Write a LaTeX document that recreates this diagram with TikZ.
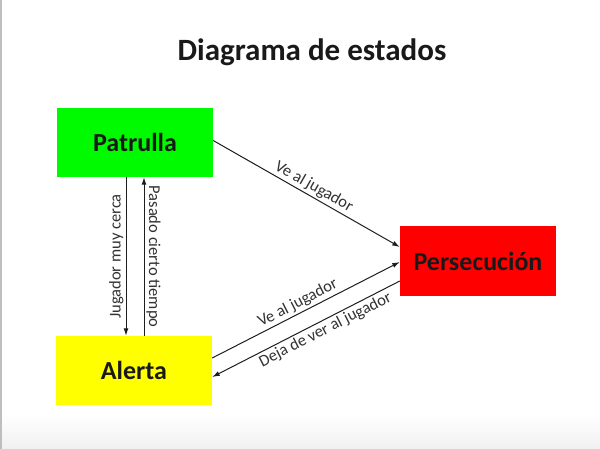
\documentclass[tikz,border=0pt]{standalone}
\usepackage{fontspec}
\setmainfont{Carlito}
\usetikzlibrary{arrows.meta,calc}
\definecolor{boxgreen}{RGB}{0,250,0}
\definecolor{boxyellow}{RGB}{255,255,0}
\definecolor{boxred}{RGB}{255,0,0}
\definecolor{linegray}{RGB}{30,30,30}
\definecolor{labelgray}{RGB}{50,50,50}
\definecolor{bordergray}{RGB}{190,190,190}
\definecolor{bottomgray}{RGB}{240,240,240}
\begin{document}
\begin{tikzpicture}[x=1pt,y=-1pt,
  state/.style={rectangle, minimum width=156pt, minimum height=69pt, inner sep=0pt,
    font=\fontsize{26}{30}\selectfont\bfseries, text=black!90},
  trans/.style={draw=linegray, line width=1pt, -{Latex[length=7.5pt,width=5pt]}},
  lbl/.style={font=\fontsize{16.5}{18}\selectfont, text=labelgray, inner sep=2pt}
]
\useasboundingbox (0,0) rectangle (600,449);
% background
\fill[white] (0,0) rectangle (600,449);
\shade[top color=white, bottom color=bottomgray] (0,414) rectangle (600,449);
\fill[bordergray] (0,0) rectangle (1.5,449);
% title
\node[font=\fontsize{31}{36}\selectfont\bfseries, text=black!90] (title) at (312,52) {Diagrama de estados};
% states
\node[state, fill=boxgreen] (pat) at (135,142.5) {Patrulla};
\node[state, fill=boxred] (per) at (478,261) {Persecución};
\node[state, fill=boxyellow] (ale) at (134,370.5) {Alerta};
% transitions
\draw[trans] ([yshift=2pt]pat.east) -- ([yshift=14pt]per.west)
  node[lbl, midway, above, sloped, xshift=3pt] {Ve al jugador};
\draw[trans] ([yshift=12.5pt]ale.east) -- ([yshift=-1pt]per.west)
  node[lbl, pos=0.48, above, sloped] {Ve al jugador};
\draw[draw=linegray, line width=1pt, {Latex[length=7.5pt,width=5pt]}-] ([yshift=-6.5pt]ale.east) -- ([yshift=-20pt]per.west)
  node[lbl, pos=0.58, below, sloped] {Deja de ver al jugador};
\draw[trans] ([xshift=-9pt]pat.south) -- ([xshift=-8pt]ale.north)
  node[lbl, midway, rotate=90, anchor=south] {Jugador muy cerca};
\draw[trans] ([xshift=10pt]ale.north) -- ([xshift=9pt]pat.south)
  node[lbl, midway, rotate=-90, anchor=south] {Pasado cierto tiempo};
\end{tikzpicture}
\end{document}
